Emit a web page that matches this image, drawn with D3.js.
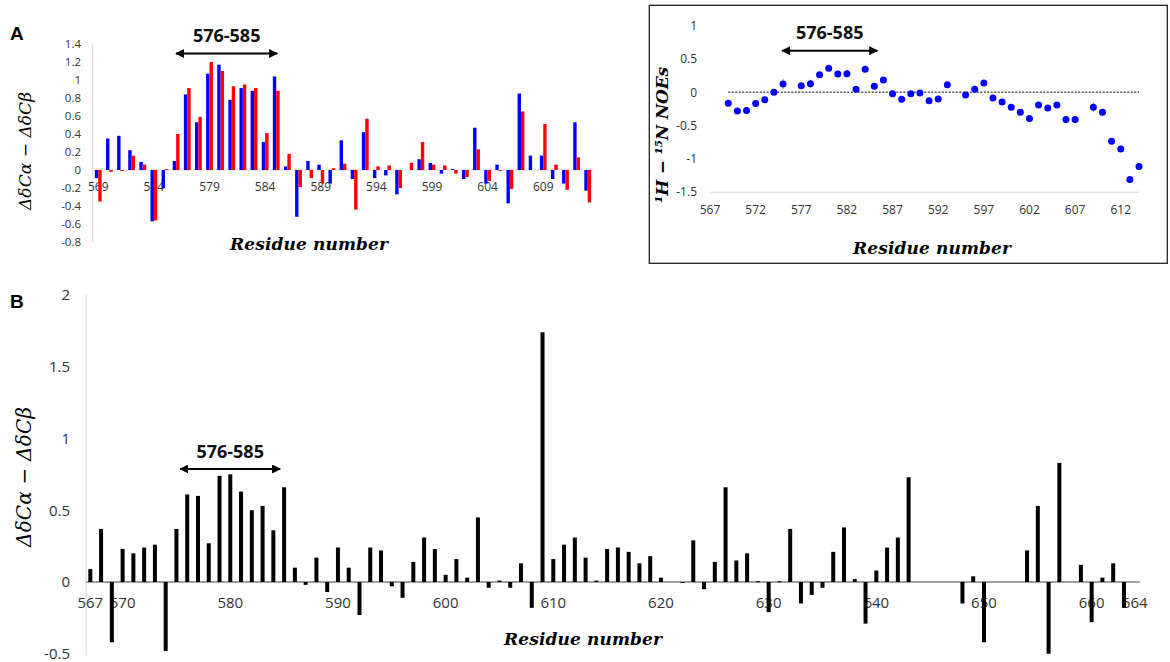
<!DOCTYPE html>
<html><head><meta charset="utf-8">
<script src="https://cdn.jsdelivr.net/npm/d3@7"></script>
<style>
html,body{margin:0;padding:0;background:#fff;}
svg{display:block;}
</style></head>
<body><svg id="chart" width="1170" height="662"></svg>
<script>
// ---------- DATA ----------
// Panel A (left): residues 569-613, two series
const residuesA = d3.range(569, 614);
const blueA = [-0.09,0.35,0.38,0.22,0.09,-0.57,-0.20,0.10,0.84,0.53,
  1.07,1.17,0.78,0.91,0.88,0.31,1.04,0.04,-0.52,0.10,
  0.06,-0.15,0.33,-0.10,0.42,-0.09,-0.06,-0.27,0,0.12,
  0.08,-0.04,0.01,-0.10,0.47,-0.15,0.06,-0.37,0.85,0.16,
  0.16,-0.10,-0.15,0.53,-0.23];
const redA = [-0.35,-0.02,-0.01,0.16,0.06,-0.56,0.01,0.40,0.91,0.59,
  1.20,1.10,0.93,0.95,0.91,0.41,0.88,0.18,-0.19,-0.09,
  -0.15,0.02,0.07,-0.44,0.57,0.04,0.05,-0.20,0.08,0.31,
  0.06,0.05,-0.04,-0.08,0.23,-0.12,-0.01,-0.21,0.65,0,
  0.51,0.06,-0.22,0.14,-0.36];
const xTicksA = [569,574,579,584,589,594,599,604,609];
const yTicksA = [-0.8,-0.6,-0.4,-0.2,0,0.2,0.4,0.6,0.8,1,1.2,1.4];

// Inset: 1H-15N NOEs, residues 569-614
const residuesC = d3.range(569, 615);
const noeC = [-0.165,-0.28,-0.275,-0.17,-0.11,0.0,0.125,null,0.10,0.13,
  0.265,0.36,0.275,0.28,0.045,0.345,0.09,0.185,-0.02,-0.105,
  -0.02,-0.01,-0.125,-0.10,0.115,null,-0.04,0.045,0.14,-0.085,
  -0.145,-0.225,-0.30,-0.395,-0.19,-0.235,-0.19,-0.41,-0.41,null,
  -0.225,-0.30,-0.735,-0.85,-1.31,-1.115];
const errC = [0.02,0.02,0.02,0.02,0.02,0.02,0.08,null,0.02,0.06,
  0.02,0.02,0.05,0.06,0.02,0.02,0.02,0.02,0.05,0.02,
  0.02,0.02,0.02,0.02,0.02,null,0.02,0.02,0.02,0.02,
  0.02,0.02,0.02,0.02,0.02,0.02,0.02,0.05,0.06,null,
  0.07,0.06,0.02,0.02,0.02,0.02];
const xTicksC = [567,572,577,582,587,592,597,602,607,612];
const yTicksC = [-1.5,-1,-0.5,0,0.5,1];

// Panel B: residues 567-664
const residuesB = d3.range(567, 665);
const valuesB = [0.09,0.37,-0.42,0.23,0.20,0.24,0.26,-0.48,0.37,0.61,
  0.60,0.27,0.74,0.75,0.63,0.50,0.53,0.36,0.66,0.10,
  -0.02,0.17,-0.07,0.24,0.10,-0.23,0.24,0.22,-0.03,-0.11,
  0.14,0.31,0.23,0.05,0.16,0.03,0.45,-0.04,0.01,-0.04,
  0.13,-0.18,1.74,0.16,0.26,0.31,0.17,0.01,0.23,0.24,
  0.21,0.13,0.18,0.03,null,-0.005,0.29,-0.05,0.14,0.66,
  0.15,0.20,0.005,-0.21,0.005,0.37,-0.15,-0.09,-0.04,0.21,
  0.38,0.02,-0.29,0.08,0.24,0.31,0.73,null,null,null,
  null,-0.15,0.04,-0.42,null,null,null,0.22,0.53,-0.50,
  0.83,null,0.12,-0.28,0.03,0.13,-0.18,null];
const xTicksB = [567,570,580,590,600,610,620,630,640,650,660,664];
const yTicksB = [-0.5,0,0.5,1,1.5,2];

const regionLabel = "576-585";
const regionRange = [576, 585];

// ---------- DRAW ----------
const svg = d3.select("#chart");
const tickFont = "'Open Sans', 'Noto Sans', sans-serif";
const mathFont = "'DejaVu Serif', serif";
const tickColor = "#333";
const fmt = d => String(d);

svg.append("defs").append("marker")
  .attr("id","ah").attr("viewBox","0 0 10 10").attr("refX",9).attr("refY",5)
  .attr("markerWidth",4.5).attr("markerHeight",4.5).attr("orient","auto-start-reverse")
  .append("path").attr("d","M0,0 L10,5 L0,10 Z").attr("fill","#000");

function regionArrow(g, x1, x2, yLine, yText, fs){
  g.append("line").attr("x1",x1).attr("x2",x2).attr("y1",yLine).attr("y2",yLine)
    .attr("stroke","#000").attr("stroke-width",2)
    .attr("marker-start","url(#ah)").attr("marker-end","url(#ah)");
  g.append("text").attr("x",(x1+x2)/2).attr("y",yText).attr("text-anchor","middle")
    .attr("font-family",tickFont).attr("font-weight","bold").attr("font-size",fs)
    .attr("fill","#111").text(regionLabel);
}

// ===== Panel A =====
{
  const g = svg.append("g");
  const x = d3.scaleBand().domain(residuesA).range([92.7, 593.3]);
  const y = d3.scaleLinear().domain([-0.8, 1.4]).range([242, 44]);
  const bw = 3.4;
  const cx = r => x(r) + x.bandwidth()/2;
  g.append("line").attr("x1",92.7).attr("x2",92.7).attr("y1",y(1.4)).attr("y2",y(-0.8))
    .attr("stroke","#d9d9d9").attr("stroke-width",1);
  g.append("line").attr("x1",92.7).attr("x2",593.3).attr("y1",y(0)).attr("y2",y(0))
    .attr("stroke","#d9d9d9").attr("stroke-width",1);
  g.selectAll("text.yt").data(yTicksA).join("text").attr("class","yt")
    .attr("x",81).attr("y",d=>y(d)).attr("dy","0.35em").attr("text-anchor","end")
    .attr("font-family",tickFont).attr("font-size",11.5).attr("fill",tickColor)
    .text(d=>fmt(+d.toFixed(1)));
  g.selectAll("text.xt").data(xTicksA).join("text").attr("class","xt")
    .attr("x",d=>cx(d)).attr("y",191).attr("text-anchor","middle")
    .attr("font-family",tickFont).attr("font-size",12).attr("fill",tickColor).text(fmt);
  const dataA = residuesA.map((r,i)=>({r, b:blueA[i], rd:redA[i]}));
  g.selectAll("rect.b").data(dataA).join("rect").attr("class","b")
    .attr("x",d=>cx(d.r)-bw).attr("width",bw)
    .attr("y",d=>y(Math.max(0,d.b))).attr("height",d=>Math.abs(y(d.b)-y(0)))
    .attr("fill","#0000ff");
  g.selectAll("rect.r").data(dataA).join("rect").attr("class","r")
    .attr("x",d=>cx(d.r)).attr("width",bw)
    .attr("y",d=>y(Math.max(0,d.rd))).attr("height",d=>Math.abs(y(d.rd)-y(0)))
    .attr("fill","#ff0000");
  regionArrow(g, cx(regionRange[0]), cx(regionRange[1])+1, 53.5, 41.5, 18);
  g.append("text").attr("transform","translate(31,151) rotate(-90)").attr("text-anchor","middle")
    .attr("font-family",mathFont).attr("font-style","italic").attr("font-size",17)
    .attr("textLength",118).attr("fill","#000").text("ΔδCα − ΔδCβ");
  g.append("text").attr("x",309).attr("y",250).attr("text-anchor","middle")
    .attr("font-family",mathFont).attr("font-style","italic").attr("font-weight","bold")
    .attr("font-size",17).attr("textLength",158).attr("fill","#000").text("Residue number");
  svg.append("text").attr("x",10).attr("y",40).attr("font-family","'Liberation Sans', Arial, sans-serif")
    .attr("font-weight","bold").attr("font-size",19).attr("fill","#000").text("A");
}

// ===== Inset NOE panel =====
{
  const g = svg.append("g");
  g.append("rect").attr("x",649.3).attr("y",5.3).attr("width",1167.3-649.3).attr("height",263.3-5.3)
    .attr("fill","#fff").attr("stroke","#222").attr("stroke-width",1.3);
  const x = d3.scaleLinear().domain([567, 614]).range([710, 1139]);
  const y = d3.scaleLinear().domain([-1.5, 1]).range([192.2, 25.7]);
  g.append("line").attr("x1",x(567)).attr("x2",x(614)).attr("y1",y(-1.5)).attr("y2",y(-1.5))
    .attr("stroke","#d9d9d9").attr("stroke-width",1);
  g.append("line").attr("x1",x(569)).attr("x2",x(614)).attr("y1",y(0)).attr("y2",y(0))
    .attr("stroke","#555").attr("stroke-width",1.5).attr("stroke-dasharray","2,1.5");
  g.selectAll("text.yt").data(yTicksC).join("text").attr("class","yt")
    .attr("x",697).attr("y",d=>y(d)).attr("dy","0.35em").attr("text-anchor","end")
    .attr("font-family",tickFont).attr("font-size",12).attr("fill",tickColor).text(fmt);
  g.selectAll("text.xt").data(xTicksC).join("text").attr("class","xt")
    .attr("x",d=>x(d)).attr("y",214).attr("text-anchor","middle")
    .attr("font-family",tickFont).attr("font-size",12).attr("fill",tickColor).text(fmt);
  const dataC = residuesC.map((r,i)=>({r, v:noeC[i], e:errC[i]})).filter(d=>d.v!==null);
  g.selectAll("line.err").data(dataC).join("line").attr("class","err")
    .attr("x1",d=>x(d.r)).attr("x2",d=>x(d.r)).attr("y1",d=>y(d.v+d.e)).attr("y2",d=>y(d.v-d.e))
    .attr("stroke","#888").attr("stroke-width",1);
  g.selectAll("circle").data(dataC).join("circle")
    .attr("cx",d=>x(d.r)).attr("cy",d=>y(d.v)).attr("r",3.5).attr("fill","#0000ff");
  regionArrow(g, x(regionRange[0])-10, x(regionRange[1])+3, 50.7, 38.5, 18);
  g.append("text").attr("transform","translate(668,135) rotate(-90)").attr("text-anchor","middle")
    .attr("font-family",mathFont).attr("font-style","italic").attr("font-weight","bold")
    .attr("font-size",17).attr("textLength",136).attr("fill","#000").text("¹H − ¹⁵N NOEs");
  g.append("text").attr("x",932).attr("y",254).attr("text-anchor","middle")
    .attr("font-family",mathFont).attr("font-style","italic").attr("font-weight","bold")
    .attr("font-size",17).attr("textLength",158).attr("fill","#000").text("Residue number");
}

// ===== Panel B =====
{
  const g = svg.append("g");
  const x = d3.scaleLinear().domain([566.6, 664.49]).range([86, 1140]);
  const y = d3.scaleLinear().domain([-0.5, 2]).range([653.75, 295]);
  const bw = 4;
  g.append("line").attr("x1",86).attr("x2",86).attr("y1",y(2)).attr("y2",y(-0.5)+1)
    .attr("stroke","#d9d9d9").attr("stroke-width",1);
  g.append("line").attr("x1",86).attr("x2",1140).attr("y1",y(0)).attr("y2",y(0))
    .attr("stroke","#808080").attr("stroke-width",1.3);
  g.selectAll("text.yt").data(yTicksB).join("text").attr("class","yt")
    .attr("x",70).attr("y",d=>y(d)).attr("dy","0.35em").attr("text-anchor","end")
    .attr("font-family",tickFont).attr("font-size",15).attr("fill",tickColor).text(fmt);
  g.selectAll("text.xt").data(xTicksB).join("text").attr("class","xt")
    .attr("x",d=>x(d)).attr("y",608).attr("text-anchor","middle")
    .attr("font-family",tickFont).attr("font-size",15).attr("fill",tickColor).text(fmt);
  const dataB = residuesB.map((r,i)=>({r, v:valuesB[i]})).filter(d=>d.v!==null);
  g.selectAll("rect").data(dataB).join("rect")
    .attr("x",d=>x(d.r)-bw/2).attr("width",bw)
    .attr("y",d=>y(Math.max(0,d.v))).attr("height",d=>Math.max(1,Math.abs(y(d.v)-y(0))))
    .attr("fill","#000");
  regionArrow(g, x(regionRange[0])-7, x(regionRange[1])-4, 469, 458, 18);
  g.append("text").attr("transform","translate(31,477) rotate(-90)").attr("text-anchor","middle")
    .attr("font-family",mathFont).attr("font-style","italic").attr("font-size",20)
    .attr("textLength",140).attr("fill","#000").text("ΔδCα − ΔδCβ");
  g.append("text").attr("x",583).attr("y",645).attr("text-anchor","middle")
    .attr("font-family",mathFont).attr("font-style","italic").attr("font-weight","bold")
    .attr("font-size",17).attr("textLength",158).attr("fill","#000").text("Residue number");
  svg.append("text").attr("x",10).attr("y",308).attr("font-family","'Liberation Sans', Arial, sans-serif")
    .attr("font-weight","bold").attr("font-size",19).attr("fill","#000").text("B");
}
</script></body></html>
